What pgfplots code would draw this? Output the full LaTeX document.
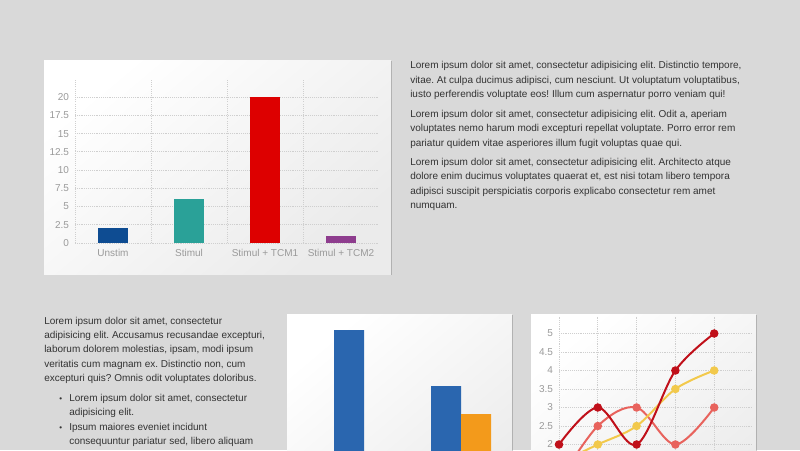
\documentclass[border=0pt]{standalone}
\usepackage{pgfplots}
\pgfplotsset{compat=1.18}
\usepackage{fontspec}
\setmainfont{Liberation Sans}
\usetikzlibrary{shadows}
\frenchspacing

\definecolor{pagebg}{HTML}{D9D9D9}
\definecolor{txt}{HTML}{333333}
\definecolor{tickgray}{HTML}{9A9A9A}
\definecolor{gridgray}{HTML}{CFCFCF}
\definecolor{cUnstim}{HTML}{0E4C92}
\definecolor{cStimul}{HTML}{2AA198}
\definecolor{cTCMa}{HTML}{DD0000}
\definecolor{cTCMb}{HTML}{8E3D8E}
\definecolor{bblue}{HTML}{2A66AF}
\definecolor{borange}{HTML}{F39A1B}
\definecolor{ldark}{HTML}{C0101A}
\definecolor{lyellow}{HTML}{F2C94C}
\definecolor{llight}{HTML}{E8635D}

\newcommand\txtline[3]{\node[anchor=base west,inner sep=0pt,text=txt] at (#1,#2) {#3};}

\pgfplotsset{
  card chart/.style={
    scale only axis,
    axis line style={draw=none},
    tick style={draw=none},
    /pgf/number format/assume math mode=true,
    tick label style={font=\fontsize{7.5}{9}\selectfont, text=tickgray},
    yticklabel style={inner sep=0pt, xshift=-4.3pt},
    xticklabel style={inner sep=0pt, yshift=-4.5pt},
    grid style={densely dotted, gridgray, line width=0.6pt},
  },
}

\begin{document}
\begin{tikzpicture}[font=\fontsize{7.5}{9}\selectfont]
\useasboundingbox (0,0) rectangle (600pt,-337.5pt);
\clip (0,0) rectangle (600pt,-337.5pt);
\fill[pagebg] (0,0) rectangle (600pt,-337.5pt);

\begin{scope}[x=0.75pt,y=-0.75pt,
  card/.style={draw=none, top color=white, bottom color=black!8, shading angle=40,
    drop shadow={shadow xshift=0.8pt, shadow yshift=-1pt, opacity=0.22, fill=black}}]
  % cards
  \path[card] (44,60) rectangle (391,274);
  \path[card] (287,314) rectangle (512,528);
  \path[card] (531,314) rectangle (756,528);

  % text, top right
  \txtline{410}{68.7}{Lorem ipsum dolor sit amet, consectetur adipisicing elit. Distinctio tempore,}
  \txtline{410}{83.05}{vitae. At culpa ducimus adipisci, cum nesciunt. Ut voluptatum voluptatibus,}
  \txtline{410}{97.4}{iusto perferendis voluptate eos! Illum cum aspernatur porro veniam qui!}
  \txtline{410}{117.3}{Lorem ipsum dolor sit amet, consectetur adipisicing elit. Odit a, aperiam}
  \txtline{410}{131.65}{voluptates nemo harum modi excepturi repellat voluptate. Porro error rem}
  \txtline{410}{146.0}{pariatur quidem vitae asperiores illum fugit voluptas quae qui.}
  \txtline{410}{165.6}{Lorem ipsum dolor sit amet, consectetur adipisicing elit. Architecto atque}
  \txtline{410}{179.95}{dolore enim ducimus voluptates quaerat et, est nisi totam libero tempora}
  \txtline{410}{194.3}{adipisci suscipit perspiciatis corporis explicabo consectetur rem amet}
  \txtline{410}{208.65}{numquam.}

  % text, bottom left
  \txtline{44}{324}{Lorem ipsum dolor sit amet, consectetur}
  \txtline{44}{338.35}{adipisicing elit. Accusamus recusandae excepturi,}
  \txtline{44}{352.7}{laborum dolorem molestias, ipsam, modi ipsum}
  \txtline{44}{367.05}{veritatis cum magnam ex. Distinctio non, cum}
  \txtline{44}{381.4}{excepturi quis? Omnis odit voluptates doloribus.}
  \txtline{59}{401.3}{\fontsize{6}{7}\selectfont •}
  \txtline{69}{401.3}{Lorem ipsum dolor sit amet, consectetur}
  \txtline{69}{415.65}{adipisicing elit.}
  \txtline{59}{430}{\fontsize{6}{7}\selectfont •}
  \txtline{69}{430}{Ipsum maiores eveniet incidunt}
  \txtline{69}{444.35}{consequuntur pariatur sed, libero aliquam}
\end{scope}

% top left bar chart
\begin{axis}[card chart,
  at={(56.25pt,-182.25pt)}, anchor=south west,
  width=228pt, height=123pt,
  xmin=-0.5, xmax=3.5, ymin=0, ymax=22.5,
  xtick={0,1,2,3},
  xticklabels={Unstim, Stimul, Stimul + TCM1, Stimul + TCM2},
  minor xtick={-0.5,0.5,1.5,2.5},
  ytick={0,2.5,5,7.5,10,12.5,15,17.5,20},
  yticklabels={0,2.5,5,7.5,10,12.5,15,17.5,20},
  xminorgrids=true, ymajorgrids=true,
  minor grid style={densely dotted, gridgray, line width=0.6pt},
]
\addplot[ybar, bar width=22.5pt, bar shift=0pt, fill=cUnstim, draw=none] coordinates {(0,2)};
\addplot[ybar, bar width=22.5pt, bar shift=0pt, fill=cStimul, draw=none] coordinates {(1,6)};
\addplot[ybar, bar width=22.5pt, bar shift=0pt, fill=cTCMa, draw=none] coordinates {(2,20)};
\addplot[ybar, bar width=22.5pt, bar shift=0pt, fill=cTCMb, draw=none] coordinates {(3,1)};
\end{axis}

% bottom middle grouped bar chart
\begin{axis}[card chart, hide axis,
  at={(236.625pt,-373.5pt)}, anchor=south west,
  width=145.5pt, height=134.4pt,
  xmin=-0.5, xmax=1.5, ymin=0, ymax=6.4,
]
\addplot[ybar, bar width=22.5pt, bar shift=-11.25pt, fill=bblue, draw=none] coordinates {(0,6) (1,4)};
\addplot[ybar, bar width=22.5pt, bar shift=11.25pt, fill=borange, draw=none] coordinates {(0,1) (1,3)};
\end{axis}

% bottom right line chart
\begin{axis}[card chart, clip=false,
  at={(419.25pt,-388.875pt)}, anchor=south west,
  width=145.5pt, height=151.24pt,
  xmin=0, xmax=5, ymin=0, ymax=5.45,
  xtick={0,1,2,3,4}, xticklabels={},
  ytick={2,2.5,3,3.5,4,4.5,5},
  yticklabels={2,2.5,3,3.5,4,4.5,5},
  extra y ticks={0,0.5,1,1.5}, extra y tick labels={},
  xmajorgrids=true, ymajorgrids=true,
]
\addplot[llight, line width=1.5pt, smooth, tension=0.55, mark=*, mark size=2.4pt] coordinates {(0,1) (1,2.5) (2,3) (3,2) (4,3)};
\addplot[lyellow, line width=1.5pt, smooth, tension=0.55, mark=*, mark size=2.4pt] coordinates {(0,1.5) (1,2) (2,2.5) (3,3.5) (4,4)};
\addplot[ldark, line width=1.5pt, smooth, tension=0.55, mark=*, mark size=2.4pt] coordinates {(0,2) (1,3) (2,2) (3,4) (4,5)};
\end{axis}
\end{tikzpicture}
\end{document}
